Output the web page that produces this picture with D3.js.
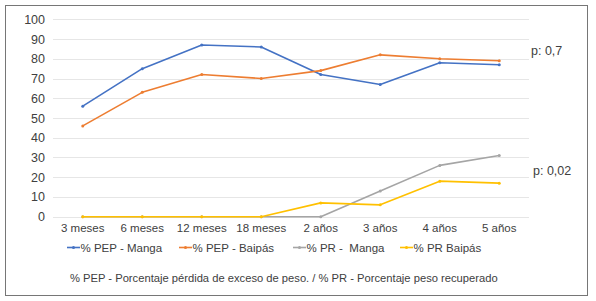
<!DOCTYPE html>
<html>
<head>
<meta charset="utf-8">
<script src="https://cdn.jsdelivr.net/npm/d3@7"></script>
<style>
  body { margin: 0; background: #fff; }
  svg { font-family: "Liberation Sans", Arial, sans-serif; }
</style>
</head>
<body>
<svg id="chart" width="596" height="301"></svg>
<script>
const categories = ["3 meses", "6 meses", "12 meses", "18 meses", "2 años", "3 años", "4 años", "5 años"];
const pepManga = [56, 75, 87, 86, 72, 67, 78, 77];
const pepBaipas = [46, 63, 72, 70, 74, 82, 80, 79];
const prManga = [0, 0, 0, 0, 0, 13, 26, 31];
const prBaipas = [0, 0, 0, 0, 7, 6, 18, 17];
const yTicks = [0, 10, 20, 30, 40, 50, 60, 70, 80, 90, 100];

const series = [
  { name: "% PEP - Manga", values: pepManga, color: "#4472C4" },
  { name: "% PEP - Baipás", values: pepBaipas, color: "#ED7D31" },
  { name: "% PR -  Manga", values: prManga, color: "#A5A5A5" },
  { name: "% PR Baipás", values: prBaipas, color: "#FFC000" },
];

const svg = d3.select("#chart");
const textColor = "#404040";

// frame
svg.append("rect")
  .attr("x", 5.5).attr("y", 5.5)
  .attr("width", 582).attr("height", 290)
  .attr("fill", "#fff")
  .attr("stroke", "#767676")
  .attr("stroke-width", 1);

const x = d3.scaleBand().domain(categories).range([53, 529]);
const y = d3.scaleLinear().domain([0, 100]).range([216.7, 19.3]);

// gridlines
svg.append("g")
  .selectAll("line")
  .data(yTicks)
  .join("line")
  .attr("x1", 53).attr("x2", 529)
  .attr("y1", d => Math.round(y(d)) + 0.5)
  .attr("y2", d => Math.round(y(d)) + 0.5)
  .attr("stroke", "#e6e6e6")
  .attr("stroke-width", 1);

// y axis labels
const yAxis = svg.append("g")
  .attr("transform", "translate(45,0)")
  .call(d3.axisLeft(y).tickValues(yTicks).tickSize(0).tickPadding(0));
yAxis.select(".domain").remove();
yAxis.selectAll("text")
  .attr("fill", textColor)
  .style("font-size", "12.5px")
  .attr("font-family", null);

// x axis labels
const xAxis = svg.append("g")
  .attr("transform", "translate(0,224)")
  .call(d3.axisBottom(x).tickSize(0).tickPadding(0));
xAxis.select(".domain").remove();
xAxis.selectAll("text")
  .attr("fill", textColor)
  .style("font-size", "11.5px")
  .attr("font-family", null);

const line = d3.line()
  .x((d, i) => x(categories[i]) + x.bandwidth() / 2)
  .y(d => y(d));

// series lines and markers
series.forEach(s => {
  const g = svg.append("g");
  g.append("path")
    .attr("d", line(s.values))
    .attr("fill", "none")
    .attr("stroke", s.color)
    .attr("stroke-width", 1.6)
    .attr("stroke-linejoin", "round");
  g.selectAll("circle")
    .data(s.values)
    .join("circle")
    .attr("cx", (d, i) => x(categories[i]) + x.bandwidth() / 2)
    .attr("cy", d => y(d))
    .attr("r", 1.5)
    .attr("fill", s.color);
});

// p labels
svg.append("text")
  .attr("x", 531).attr("y", 54.5)
  .attr("fill", textColor)
  .style("font-size", "12.5px")
  .text("p: 0,7");
svg.append("text")
  .attr("x", 533).attr("y", 174.5)
  .attr("fill", textColor)
  .style("font-size", "12.5px")
  .text("p: 0,02");

// legend
const legendX = [67, 179, 293, 400];
const legend = svg.append("g");
series.forEach((s, i) => {
  const lg = legend.append("g").attr("transform", `translate(${legendX[i]},247.5)`);
  lg.append("line")
    .attr("x1", 0).attr("x2", 13)
    .attr("y1", 0).attr("y2", 0)
    .attr("stroke", s.color)
    .attr("stroke-width", 1.6);
  lg.append("circle").attr("cx", 6.5).attr("cy", 0).attr("r", 1.5).attr("fill", s.color);
  lg.append("text")
    .attr("x", 13.5).attr("y", 4)
    .attr("fill", textColor)
    .style("font-size", "11.5px")
    .style("white-space", "pre")
    .attr("xml:space", "preserve")
    .text(s.name);
});

// footnote
svg.append("text")
  .attr("x", 70).attr("y", 282)
  .attr("fill", textColor)
  .style("font-size", "11.2px")
  .text("% PEP - Porcentaje pérdida de exceso de peso. / % PR - Porcentaje peso recuperado");
</script>
</body>
</html>
